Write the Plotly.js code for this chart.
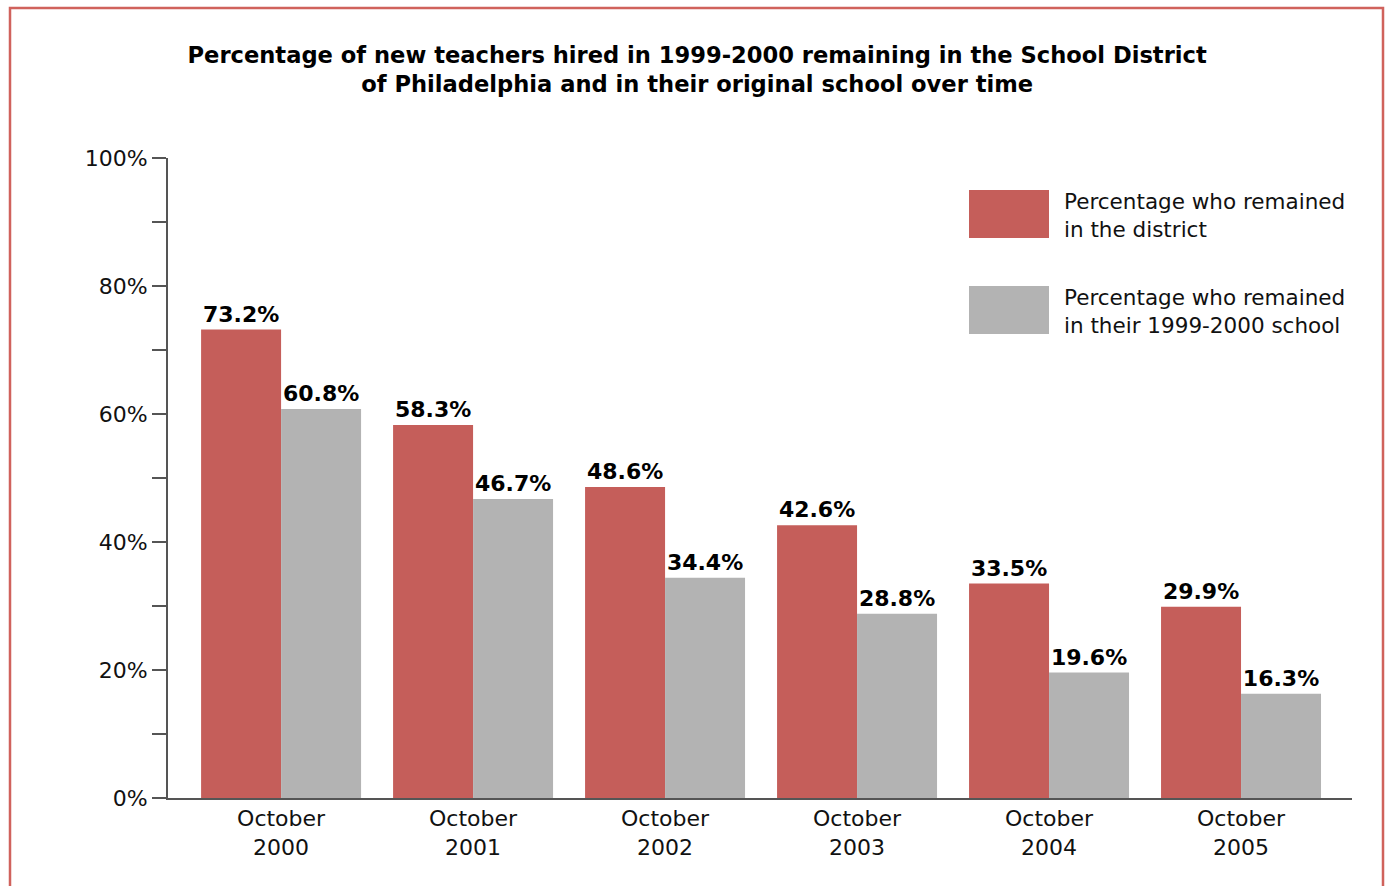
<!DOCTYPE html>
<html>
<head>
<meta charset="utf-8">
<script src="https://cdn.plot.ly/plotly-3.0.1.min.js"></script>
<style>html,body{margin:0;padding:0;background:#fff;}#chart{width:1386px;height:886px;}</style>
</head>
<body>
<div id="chart"></div>
<script>
const categories = ["October<br>2000", "October<br>2001", "October<br>2002", "October<br>2003", "October<br>2004", "October<br>2005"];
const districtValues = [73.2, 58.3, 48.6, 42.6, 33.5, 29.9];
const schoolValues = [60.8, 46.7, 34.4, 28.8, 19.6, 16.3];
const seriesNames = ["Percentage who remained<br>in the district", "Percentage who remained<br>in their 1999-2000 school"];
const yTickVals = [0, 10, 20, 30, 40, 50, 60, 70, 80, 90, 100];
const yTickText = ["0%", "", "20%", "", "40%", "", "60%", "", "80%", "", "100%"];

const RED = "#c55e5a";
const GRAY = "#b3b3b3";
const FONT = "DejaVu Sans, Liberation Sans, Arial, sans-serif";
const labelFont = {family: FONT, size: 22, color: "#000", weight: "bold"};

const traces = [
  {
    type: "bar", x: categories, y: districtValues, name: seriesNames[0],
    marker: {color: RED},
    text: districtValues.map(v => "<b>" + v.toFixed(1) + "%</b>"),
    textposition: "outside", cliponaxis: false,
    textfont: labelFont, hoverinfo: "skip"
  },
  {
    type: "bar", x: categories, y: schoolValues, name: seriesNames[1],
    marker: {color: GRAY},
    text: schoolValues.map(v => "<b>" + v.toFixed(1) + "%</b>"),
    textposition: "outside", cliponaxis: false,
    textfont: labelFont, hoverinfo: "skip"
  }
];

const L = 168, R = 34, T = 158, B = 88, W = 1386, H = 886;
const pw = W - L - R, ph = H - T - B;
const px = x => (x - L) / pw;
const py = y => (H - B - y) / ph;

const layout = {
  width: W, height: H,
  margin: {l: L, r: R, t: T, b: B, pad: 0},
  paper_bgcolor: "#fff", plot_bgcolor: "#fff",
  barmode: "group", bargap: 0.1667, bargroupgap: 0,
  showlegend: false,
  font: {family: FONT, color: "#111", size: 22},
  title: {
    text: "<b>Percentage of new teachers hired in 1999-2000 remaining in the School District<br>of Philadelphia and in their original school over time</b>",
    font: {family: FONT, size: 22.6, color: "#000"},
    x: 0.503, xanchor: "center", y: 1 - 63 / H, yanchor: "middle", yref: "container"
  },
  xaxis: {
    range: [-0.589, 5.578], showline: true, linecolor: "#555", linewidth: 2,
    ticks: "", showgrid: false, zeroline: false, fixedrange: true,
    tickfont: {family: FONT, size: 22, color: "#111"}
  },
  yaxis: {
    range: [0, 100], showline: true, linecolor: "#555", linewidth: 2,
    tickvals: yTickVals, ticktext: yTickText, ticks: "outside", ticklen: 14,
    tickwidth: 2, tickcolor: "#555", showgrid: false, zeroline: false,
    tickfont: {family: FONT, size: 22, color: "#111"},
    fixedrange: true
  },
  shapes: [
    {type: "rect", xref: "paper", yref: "paper", x0: px(10), x1: px(1383), y0: py(940), y1: py(8),
     line: {color: "#d0625c", width: 2.5}, fillcolor: "rgba(0,0,0,0)", layer: "below"},
    {type: "rect", xref: "paper", yref: "paper", x0: px(969), x1: px(1049), y0: py(238), y1: py(190),
     line: {width: 0}, fillcolor: RED},
    {type: "rect", xref: "paper", yref: "paper", x0: px(969), x1: px(1049), y0: py(334), y1: py(286),
     line: {width: 0}, fillcolor: GRAY}
  ],
  annotations: [
    {xref: "paper", yref: "paper", x: px(1062), y: py(215), xanchor: "left", yanchor: "middle",
     text: seriesNames[0], showarrow: false, align: "left",
     font: {family: FONT, size: 21.5, color: "#111"}},
    {xref: "paper", yref: "paper", x: px(1062), y: py(311), xanchor: "left", yanchor: "middle",
     text: seriesNames[1], showarrow: false, align: "left",
     font: {family: FONT, size: 21.5, color: "#111"}}
  ]
};

Plotly.newPlot("chart", traces, layout, {displayModeBar: false, staticPlot: true});
</script>
</body>
</html>
